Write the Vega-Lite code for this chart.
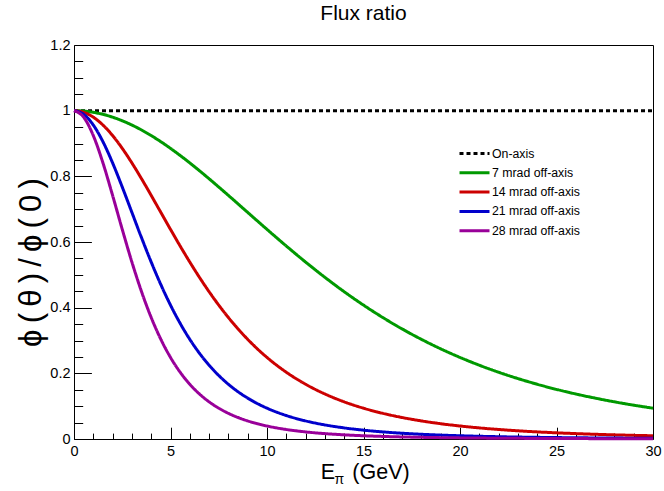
{
  "$schema": "https://vega.github.io/schema/vega-lite/v6.json",
  "width": 579,
  "height": 394,
  "autosize": {"type": "none"},
  "padding": {"left": 74, "top": 45, "right": 11, "bottom": 52},
  "background": "white",
  "config": {
    "font": "Liberation Sans",
    "view": {"stroke": "black", "strokeWidth": 1}
  },
  "title": {
    "text": "Flux ratio",
    "fontSize": 21,
    "fontWeight": "normal",
    "font": "Liberation Sans",
    "color": "black",
    "anchor": "middle",
    "frame": "group",
    "baseline": "alphabetic",
    "offset": 4,
    "dy": 8
  },
  "layer": [
    {
      "data": {
        "values": [
          {"series": "On-axis", "E": 0, "ratio": 1},
          {"series": "On-axis", "E": 30, "ratio": 1},

          {"series": "7 mrad off-axis", "E": 0, "ratio": 1},
          {"series": "7 mrad off-axis", "E": 0.5, "ratio": 0.99874},
          {"series": "7 mrad off-axis", "E": 1, "ratio": 0.99499},
          {"series": "7 mrad off-axis", "E": 1.5, "ratio": 0.98878},
          {"series": "7 mrad off-axis", "E": 2, "ratio": 0.98018},
          {"series": "7 mrad off-axis", "E": 2.5, "ratio": 0.96928},
          {"series": "7 mrad off-axis", "E": 3, "ratio": 0.95621},
          {"series": "7 mrad off-axis", "E": 3.5, "ratio": 0.94111},
          {"series": "7 mrad off-axis", "E": 4, "ratio": 0.92412},
          {"series": "7 mrad off-axis", "E": 4.5, "ratio": 0.90541},
          {"series": "7 mrad off-axis", "E": 5, "ratio": 0.88517},
          {"series": "7 mrad off-axis", "E": 5.5, "ratio": 0.86357},
          {"series": "7 mrad off-axis", "E": 6, "ratio": 0.84082},
          {"series": "7 mrad off-axis", "E": 6.5, "ratio": 0.81709},
          {"series": "7 mrad off-axis", "E": 7, "ratio": 0.79257},
          {"series": "7 mrad off-axis", "E": 7.5, "ratio": 0.76745},
          {"series": "7 mrad off-axis", "E": 8, "ratio": 0.7419},
          {"series": "7 mrad off-axis", "E": 8.5, "ratio": 0.71607},
          {"series": "7 mrad off-axis", "E": 9, "ratio": 0.69011},
          {"series": "7 mrad off-axis", "E": 9.5, "ratio": 0.6642},
          {"series": "7 mrad off-axis", "E": 10, "ratio": 0.63842},
          {"series": "7 mrad off-axis", "E": 11, "ratio": 0.58775},
          {"series": "7 mrad off-axis", "E": 12, "ratio": 0.53889},
          {"series": "7 mrad off-axis", "E": 13, "ratio": 0.49237},
          {"series": "7 mrad off-axis", "E": 14, "ratio": 0.4486},
          {"series": "7 mrad off-axis", "E": 15, "ratio": 0.40778},
          {"series": "7 mrad off-axis", "E": 16, "ratio": 0.37001},
          {"series": "7 mrad off-axis", "E": 17, "ratio": 0.33529},
          {"series": "7 mrad off-axis", "E": 18, "ratio": 0.30355},
          {"series": "7 mrad off-axis", "E": 19, "ratio": 0.27466},
          {"series": "7 mrad off-axis", "E": 20, "ratio": 0.24846},
          {"series": "7 mrad off-axis", "E": 21, "ratio": 0.22475},
          {"series": "7 mrad off-axis", "E": 22, "ratio": 0.20336},
          {"series": "7 mrad off-axis", "E": 23, "ratio": 0.18409},
          {"series": "7 mrad off-axis", "E": 24, "ratio": 0.16674},
          {"series": "7 mrad off-axis", "E": 25, "ratio": 0.15114},
          {"series": "7 mrad off-axis", "E": 26, "ratio": 0.13713},
          {"series": "7 mrad off-axis", "E": 27, "ratio": 0.12453},
          {"series": "7 mrad off-axis", "E": 28, "ratio": 0.1132},
          {"series": "7 mrad off-axis", "E": 29, "ratio": 0.10302},
          {"series": "7 mrad off-axis", "E": 30, "ratio": 0.09387},

          {"series": "14 mrad off-axis", "E": 0, "ratio": 1},
          {"series": "14 mrad off-axis", "E": 0.5, "ratio": 0.99499},
          {"series": "14 mrad off-axis", "E": 1, "ratio": 0.98018},
          {"series": "14 mrad off-axis", "E": 1.5, "ratio": 0.95621},
          {"series": "14 mrad off-axis", "E": 2, "ratio": 0.92412},
          {"series": "14 mrad off-axis", "E": 2.5, "ratio": 0.88517},
          {"series": "14 mrad off-axis", "E": 3, "ratio": 0.84082},
          {"series": "14 mrad off-axis", "E": 3.5, "ratio": 0.79257},
          {"series": "14 mrad off-axis", "E": 4, "ratio": 0.7419},
          {"series": "14 mrad off-axis", "E": 4.5, "ratio": 0.69011},
          {"series": "14 mrad off-axis", "E": 5, "ratio": 0.63842},
          {"series": "14 mrad off-axis", "E": 5.5, "ratio": 0.58775},
          {"series": "14 mrad off-axis", "E": 6, "ratio": 0.53889},
          {"series": "14 mrad off-axis", "E": 6.5, "ratio": 0.49237},
          {"series": "14 mrad off-axis", "E": 7, "ratio": 0.4486},
          {"series": "14 mrad off-axis", "E": 7.5, "ratio": 0.40778},
          {"series": "14 mrad off-axis", "E": 8, "ratio": 0.37001},
          {"series": "14 mrad off-axis", "E": 8.5, "ratio": 0.33529},
          {"series": "14 mrad off-axis", "E": 9, "ratio": 0.30355},
          {"series": "14 mrad off-axis", "E": 9.5, "ratio": 0.27466},
          {"series": "14 mrad off-axis", "E": 10, "ratio": 0.24846},
          {"series": "14 mrad off-axis", "E": 11, "ratio": 0.20336},
          {"series": "14 mrad off-axis", "E": 12, "ratio": 0.16674},
          {"series": "14 mrad off-axis", "E": 13, "ratio": 0.13713},
          {"series": "14 mrad off-axis", "E": 14, "ratio": 0.1132},
          {"series": "14 mrad off-axis", "E": 15, "ratio": 0.09387},
          {"series": "14 mrad off-axis", "E": 16, "ratio": 0.07821},
          {"series": "14 mrad off-axis", "E": 17, "ratio": 0.06548},
          {"series": "14 mrad off-axis", "E": 18, "ratio": 0.0551},
          {"series": "14 mrad off-axis", "E": 19, "ratio": 0.0466},
          {"series": "14 mrad off-axis", "E": 20, "ratio": 0.03961},
          {"series": "14 mrad off-axis", "E": 21, "ratio": 0.03382},
          {"series": "14 mrad off-axis", "E": 22, "ratio": 0.02902},
          {"series": "14 mrad off-axis", "E": 23, "ratio": 0.02501},
          {"series": "14 mrad off-axis", "E": 24, "ratio": 0.02165},
          {"series": "14 mrad off-axis", "E": 25, "ratio": 0.01882},
          {"series": "14 mrad off-axis", "E": 26, "ratio": 0.01643},
          {"series": "14 mrad off-axis", "E": 27, "ratio": 0.01439},
          {"series": "14 mrad off-axis", "E": 28, "ratio": 0.01266},
          {"series": "14 mrad off-axis", "E": 29, "ratio": 0.01117},
          {"series": "14 mrad off-axis", "E": 30, "ratio": 0.00989},

          {"series": "21 mrad off-axis", "E": 0, "ratio": 1},
          {"series": "21 mrad off-axis", "E": 0.5, "ratio": 0.98878},
          {"series": "21 mrad off-axis", "E": 1, "ratio": 0.95621},
          {"series": "21 mrad off-axis", "E": 1.5, "ratio": 0.90541},
          {"series": "21 mrad off-axis", "E": 2, "ratio": 0.84082},
          {"series": "21 mrad off-axis", "E": 2.5, "ratio": 0.76745},
          {"series": "21 mrad off-axis", "E": 3, "ratio": 0.69011},
          {"series": "21 mrad off-axis", "E": 3.5, "ratio": 0.61291},
          {"series": "21 mrad off-axis", "E": 4, "ratio": 0.53889},
          {"series": "21 mrad off-axis", "E": 4.5, "ratio": 0.47013},
          {"series": "21 mrad off-axis", "E": 5, "ratio": 0.40778},
          {"series": "21 mrad off-axis", "E": 5.5, "ratio": 0.35228},
          {"series": "21 mrad off-axis", "E": 6, "ratio": 0.30355},
          {"series": "21 mrad off-axis", "E": 6.5, "ratio": 0.26123},
          {"series": "21 mrad off-axis", "E": 7, "ratio": 0.22475},
          {"series": "21 mrad off-axis", "E": 7.5, "ratio": 0.19347},
          {"series": "21 mrad off-axis", "E": 8, "ratio": 0.16674},
          {"series": "21 mrad off-axis", "E": 8.5, "ratio": 0.14395},
          {"series": "21 mrad off-axis", "E": 9, "ratio": 0.12453},
          {"series": "21 mrad off-axis", "E": 9.5, "ratio": 0.10798},
          {"series": "21 mrad off-axis", "E": 10, "ratio": 0.09387},
          {"series": "21 mrad off-axis", "E": 11, "ratio": 0.07152},
          {"series": "21 mrad off-axis", "E": 12, "ratio": 0.0551},
          {"series": "21 mrad off-axis", "E": 13, "ratio": 0.04294},
          {"series": "21 mrad off-axis", "E": 14, "ratio": 0.03382},
          {"series": "21 mrad off-axis", "E": 15, "ratio": 0.02693},
          {"series": "21 mrad off-axis", "E": 16, "ratio": 0.02165},
          {"series": "21 mrad off-axis", "E": 17, "ratio": 0.01758},
          {"series": "21 mrad off-axis", "E": 18, "ratio": 0.01439},
          {"series": "21 mrad off-axis", "E": 19, "ratio": 0.01189},
          {"series": "21 mrad off-axis", "E": 20, "ratio": 0.00989},
          {"series": "21 mrad off-axis", "E": 21, "ratio": 0.00829},
          {"series": "21 mrad off-axis", "E": 22, "ratio": 0.00699},
          {"series": "21 mrad off-axis", "E": 23, "ratio": 0.00594},
          {"series": "21 mrad off-axis", "E": 24, "ratio": 0.00507},
          {"series": "21 mrad off-axis", "E": 25, "ratio": 0.00436},
          {"series": "21 mrad off-axis", "E": 26, "ratio": 0.00376},
          {"series": "21 mrad off-axis", "E": 27, "ratio": 0.00326},
          {"series": "21 mrad off-axis", "E": 28, "ratio": 0.00284},
          {"series": "21 mrad off-axis", "E": 29, "ratio": 0.00249},
          {"series": "21 mrad off-axis", "E": 30, "ratio": 0.00219},

          {"series": "28 mrad off-axis", "E": 0, "ratio": 1},
          {"series": "28 mrad off-axis", "E": 0.5, "ratio": 0.98018},
          {"series": "28 mrad off-axis", "E": 1, "ratio": 0.92412},
          {"series": "28 mrad off-axis", "E": 1.5, "ratio": 0.84082},
          {"series": "28 mrad off-axis", "E": 2, "ratio": 0.7419},
          {"series": "28 mrad off-axis", "E": 2.5, "ratio": 0.63842},
          {"series": "28 mrad off-axis", "E": 3, "ratio": 0.53889},
          {"series": "28 mrad off-axis", "E": 3.5, "ratio": 0.4486},
          {"series": "28 mrad off-axis", "E": 4, "ratio": 0.37001},
          {"series": "28 mrad off-axis", "E": 4.5, "ratio": 0.30355},
          {"series": "28 mrad off-axis", "E": 5, "ratio": 0.24846},
          {"series": "28 mrad off-axis", "E": 5.5, "ratio": 0.20336},
          {"series": "28 mrad off-axis", "E": 6, "ratio": 0.16674},
          {"series": "28 mrad off-axis", "E": 6.5, "ratio": 0.13713},
          {"series": "28 mrad off-axis", "E": 7, "ratio": 0.1132},
          {"series": "28 mrad off-axis", "E": 7.5, "ratio": 0.09387},
          {"series": "28 mrad off-axis", "E": 8, "ratio": 0.07821},
          {"series": "28 mrad off-axis", "E": 8.5, "ratio": 0.06548},
          {"series": "28 mrad off-axis", "E": 9, "ratio": 0.0551},
          {"series": "28 mrad off-axis", "E": 9.5, "ratio": 0.0466},
          {"series": "28 mrad off-axis", "E": 10, "ratio": 0.03961},
          {"series": "28 mrad off-axis", "E": 11, "ratio": 0.02902},
          {"series": "28 mrad off-axis", "E": 12, "ratio": 0.02165},
          {"series": "28 mrad off-axis", "E": 13, "ratio": 0.01643},
          {"series": "28 mrad off-axis", "E": 14, "ratio": 0.01266},
          {"series": "28 mrad off-axis", "E": 15, "ratio": 0.00989},
          {"series": "28 mrad off-axis", "E": 16, "ratio": 0.00783},
          {"series": "28 mrad off-axis", "E": 17, "ratio": 0.00627},
          {"series": "28 mrad off-axis", "E": 18, "ratio": 0.00507},
          {"series": "28 mrad off-axis", "E": 19, "ratio": 0.00415},
          {"series": "28 mrad off-axis", "E": 20, "ratio": 0.00342},
          {"series": "28 mrad off-axis", "E": 21, "ratio": 0.00284},
          {"series": "28 mrad off-axis", "E": 22, "ratio": 0.00238},
          {"series": "28 mrad off-axis", "E": 23, "ratio": 0.00201},
          {"series": "28 mrad off-axis", "E": 24, "ratio": 0.00171},
          {"series": "28 mrad off-axis", "E": 25, "ratio": 0.00146},
          {"series": "28 mrad off-axis", "E": 26, "ratio": 0.00126},
          {"series": "28 mrad off-axis", "E": 27, "ratio": 0.00109},
          {"series": "28 mrad off-axis", "E": 28, "ratio": 0.00094},
          {"series": "28 mrad off-axis", "E": 29, "ratio": 0.00082},
          {"series": "28 mrad off-axis", "E": 30, "ratio": 0.00072}
        ]
      },
      "mark": {"type": "line", "strokeWidth": 3, "strokeCap": "butt", "interpolate": "monotone"},
      "encoding": {
        "x": {
          "field": "E",
          "type": "quantitative",
          "scale": {"domain": [0, 30], "nice": false, "zero": false},
          "axis": {
            "title": null,
            "values": [0,1,2,3,4,5,6,7,8,9,10,11,12,13,14,15,16,17,18,19,20,21,22,23,24,25,26,27,28,29,30],
            "tickCount": 100,
            "domain": false, "grid": false,
            "tickColor": "black", "tickWidth": 1,
            "tickSize": {"expr": "datum.value % 5 === 0 ? -11.8 : -5.9"},
            "labelExpr": "datum.value % 5 === 0 ? toString(datum.value) : ''",
            "labelFont": "Liberation Sans", "labelFontSize": 14.5, "labelColor": "black",
            "labelPadding": 17.3, "labelFlush": false, "labelOverlap": false, "labelBound": false
          }
        },
        "y": {
          "field": "ratio",
          "type": "quantitative",
          "scale": {"domain": [0, 1.2], "nice": false},
          "axis": {
            "title": "\u03d5\u2009(\u2009\u03b8\u2009)\u2009/\u2009\u03d5\u2009(\u20090\u2009)",
            "titleFont": "Liberation Sans", "titleFontSize": 31, "titleFontWeight": "normal", "titleColor": "black",
            "titleAngle": -90, "titleAlign": "center", "titleBaseline": "middle", "titleX": -43, "titleY": 217,
            "values": [0,0.05,0.1,0.15,0.2,0.25,0.3,0.35,0.4,0.45,0.5,0.55,0.6,0.65,0.7,0.75,0.8,0.85,0.9,0.95,1,1.05,1.1,1.15,1.2],
            "tickCount": 100,
            "domain": false, "grid": false,
            "tickColor": "black", "tickWidth": 1,
            "tickSize": {"expr": "abs(datum.value * 5 - round(datum.value * 5)) < 0.000001 ? -17.4 : -8.7"},
            "labelExpr": "abs(datum.value * 5 - round(datum.value * 5)) < 0.000001 ? toString(round(datum.value * 10) / 10) : ''",
            "labelFont": "Liberation Sans", "labelFontSize": 14.5, "labelColor": "black",
            "labelPadding": 21.4, "labelFlush": false, "labelOverlap": false, "labelBound": false
          }
        },
        "color": {
          "field": "series",
          "type": "nominal",
          "scale": {
            "domain": ["On-axis", "7 mrad off-axis", "14 mrad off-axis", "21 mrad off-axis", "28 mrad off-axis"],
            "range": ["#000000", "#009900", "#cc0000", "#0000cc", "#990099"]
          },
          "legend": {
            "title": null, "orient": "none", "legendX": 394, "legendY": 102, "padding": 0,
            "symbolType": "M-3,0H3", "symbolSize": 100, "symbolStrokeWidth": 3,
            "labelFont": "Liberation Sans", "labelFontSize": 12.3, "labelColor": "black",
            "labelOffset": 11, "rowPadding": 6.3
          }
        },
        "strokeDash": {
          "field": "series",
          "type": "nominal",
          "scale": {
            "domain": ["On-axis", "7 mrad off-axis", "14 mrad off-axis", "21 mrad off-axis", "28 mrad off-axis"],
            "range": [[4, 3], [1, 0], [1, 0], [1, 0], [1, 0]]
          },
          "legend": {
            "title": null, "orient": "none", "legendX": 394, "legendY": 102, "padding": 0,
            "symbolType": "M-3,0H3", "symbolSize": 100, "symbolStrokeWidth": 3,
            "labelFont": "Liberation Sans", "labelFontSize": 12.3, "labelColor": "black",
            "labelOffset": 11, "rowPadding": 6.3
          }
        }
      }
    },
    {
      "data": {"values": [{}]},
      "mark": {"type": "text", "text": "E", "font": "Liberation Sans", "fontSize": 21.5, "align": "left", "baseline": "alphabetic", "color": "black"},
      "encoding": {
        "x": {"datum": 12.78, "type": "quantitative"},
        "y": {"datum": -0.1233, "type": "quantitative"}
      }
    },
    {
      "data": {"values": [{}]},
      "mark": {"type": "text", "text": "π", "font": "Liberation Sans", "fontSize": 14, "align": "left", "baseline": "alphabetic", "color": "black"},
      "encoding": {
        "x": {"datum": 13.5, "type": "quantitative"},
        "y": {"datum": -0.137, "type": "quantitative"}
      }
    },
    {
      "data": {"values": [{}]},
      "mark": {"type": "text", "text": "(GeV)", "font": "Liberation Sans", "fontSize": 21.5, "align": "left", "baseline": "alphabetic", "color": "black"},
      "encoding": {
        "x": {"datum": 14.42, "type": "quantitative"},
        "y": {"datum": -0.1233, "type": "quantitative"}
      }
    }
  ]
}
